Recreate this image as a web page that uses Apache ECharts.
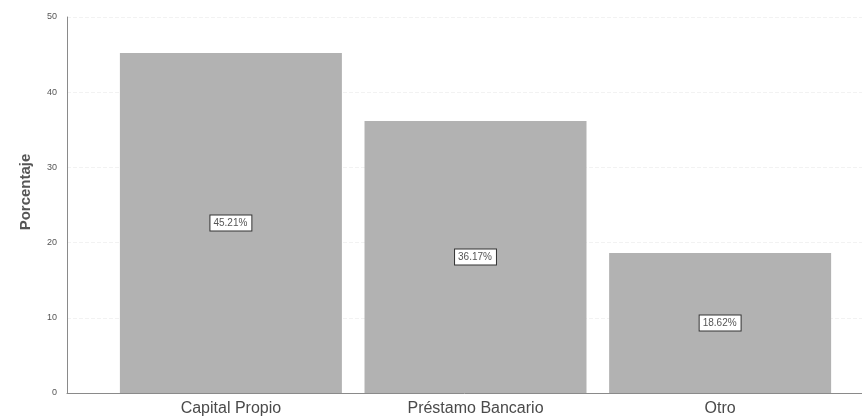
<!DOCTYPE html>
<html>
<head>
<meta charset="utf-8">
<script src="https://cdn.jsdelivr.net/npm/echarts@6/dist/echarts.min.js"></script>
<style>
  html, body { margin: 0; padding: 0; background: #fff; }
  #chart { width: 862px; height: 420px; }
</style>
</head>
<body>
<div id="chart"></div>
<script>
  const categories = ['Capital Propio', 'Préstamo Bancario', 'Otro']
  const values = [45.21, 36.17, 18.62]
  const labels = ['45.21%', '36.17%', '18.62%']

  const chart = echarts.init(document.getElementById('chart'))

  const option = {
    animation: false,
    textStyle: { fontFamily: 'Liberation Sans, Arial, sans-serif' },
    grid: { left: 67, right: 0, top: 17, bottom: 27 },
    xAxis: {
      type: 'value',
      min: -0.67,
      max: 2.58,
      axisLine: { show: true, onZero: false, lineStyle: { color: '#8a8a8a', width: 1 } },
      axisTick: { show: false },
      splitLine: { show: false },
      axisLabel: {
        customValues: [0, 1, 2],
        formatter: function (v) { return categories[Math.round(v)] || '' },
        color: '#4a4a4a',
        fontSize: 16,
        margin: 8
      }
    },
    yAxis: {
      type: 'value',
      min: 0,
      max: 50,
      interval: 10,
      name: 'Porcentaje',
      nameLocation: 'middle',
      nameGap: 34,
      nameTextStyle: { color: '#555', fontSize: 15, fontWeight: 'bold', padding: [0, 0, 0, 26] },
      axisLine: { show: true, onZero: false, lineStyle: { color: '#8a8a8a', width: 1 } },
      axisTick: { show: false },
      axisLabel: { color: '#555', fontSize: 9, margin: 10 },
      splitLine: { show: true, lineStyle: { color: '#f2f2f2', type: 'dashed' } }
    },
    series: [{
      type: 'bar',
      barWidth: 222,
      data: values.map(function (v, i) { return [i, v] }),
      itemStyle: { color: '#b2b2b2' },
      label: {
        show: true,
        position: 'inside',
        formatter: function (p) { return labels[p.dataIndex] },
        color: '#555',
        fontSize: 10,
        backgroundColor: '#fff',
        borderColor: '#333',
        borderWidth: 1,
        padding: [3, 4, 2, 3]
      }
    }]
  }

  chart.setOption(option)
</script>
</body>
</html>
